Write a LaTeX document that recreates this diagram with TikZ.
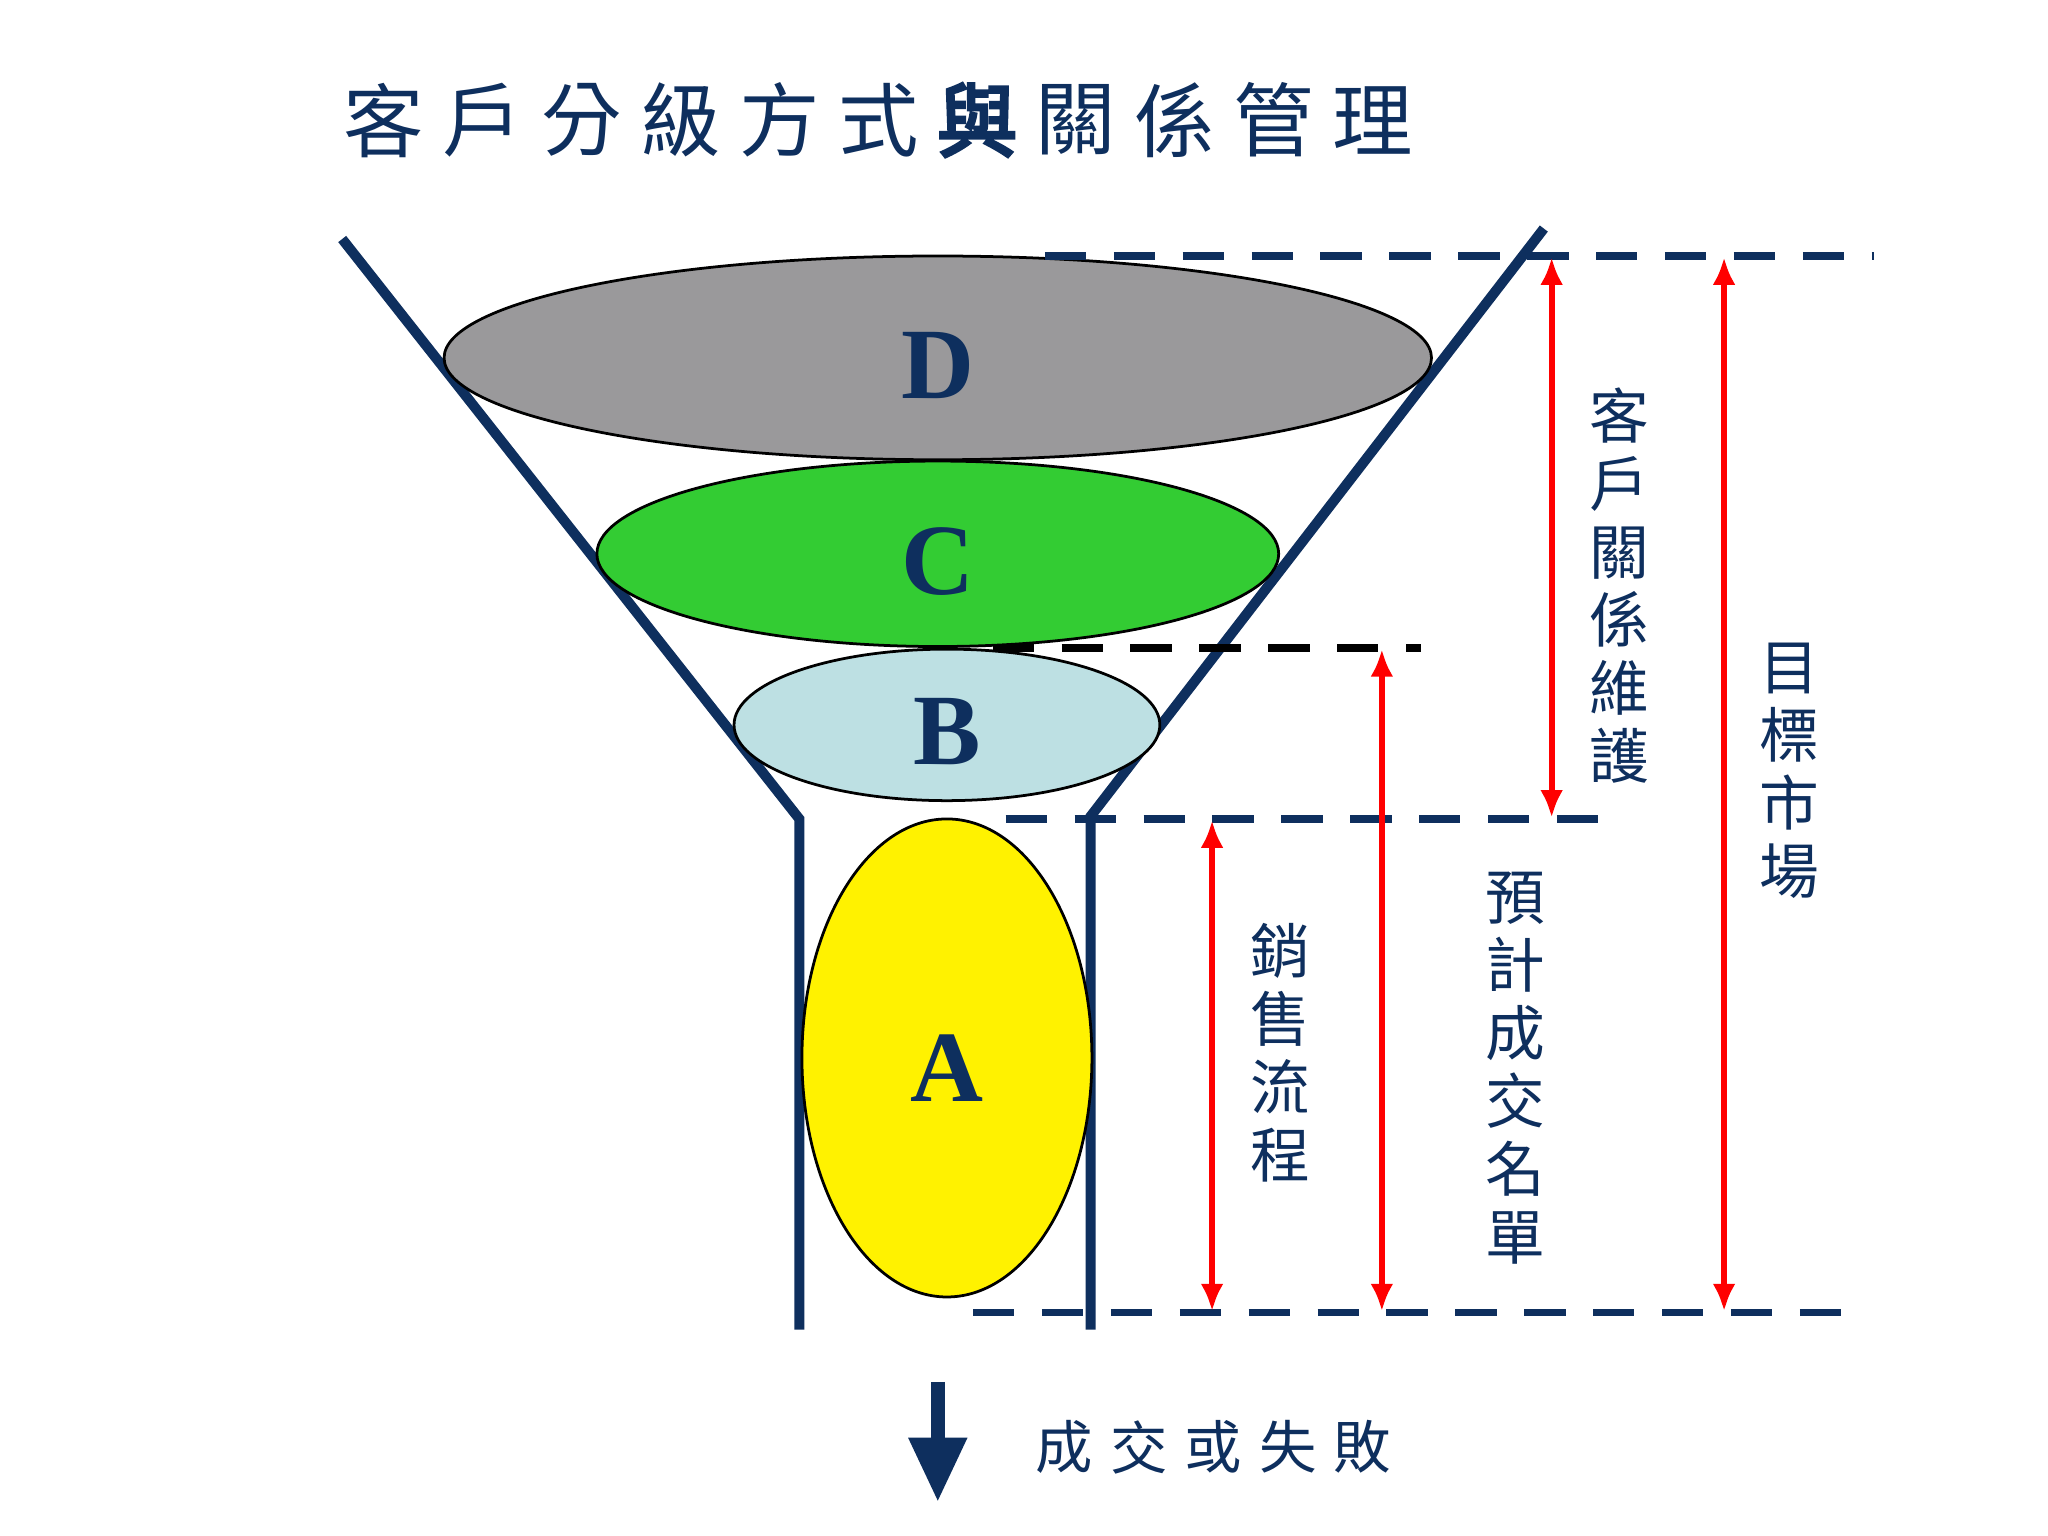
\documentclass[tikz,border=0pt]{standalone}
\usepackage{fontspec}
\newfontfamily\cjk{Noto Sans CJK TC}
\newfontfamily\cjkb{Noto Sans CJK TC}[FakeBold=4]
\newfontfamily\lserif{Liberation Serif}
\usetikzlibrary{arrows.meta}
\definecolor{navy}{HTML}{0E2F5E}
\definecolor{dgray}{HTML}{9A999B}
\definecolor{cgreen}{HTML}{33CC33}
\definecolor{lblue}{HTML}{BDE0E3}
\tikzset{
 funnel/.style={navy,line width=2.2pt},
 dline/.style={navy,line width=1.6pt,dash pattern=on 9pt off 6pt},
 rarrow/.style={red,line width=1.3pt,{Latex[length=6pt,width=5pt]}-{Latex[length=6pt,width=5pt]}},
 lvl/.style={draw=black,line width=0.6pt},
 letter/.style={font=\lserif\bfseries\fontsize{22}{22}\selectfont,text=navy},
 vtext/.style={align=center,text=navy,font=\cjk\fontsize{13}{14.8}\selectfont,inner sep=0pt},
}
\begin{document}
\begin{tikzpicture}[x=0.01cm,y=-0.01cm]
\useasboundingbox[fill=white] (0,0) rectangle (1568,1176);
% title
\foreach \c [count=\i] in {客,戶,分,級,方,式,與,關,係,管,理}{
  \ifnum\i=7
   \node[text=navy,font=\cjkb\fontsize{17.5}{17.5}\selectfont] (t\i) at ({294+(\i-1)*75.7},92) {\c};
  \else
   \node[text=navy,font=\cjk\fontsize{17.5}{17.5}\selectfont] (t\i) at ({294+(\i-1)*75.7},92) {\c};
  \fi}
% funnel
\coordinate (l1) at (262,183); \coordinate (l2) at (612,627); \coordinate (l3) at (612,1018);
\coordinate (r1) at (1182,175); \coordinate (r2) at (835,625); \coordinate (r3) at (835,1018);
\draw[funnel] (l1) -- (l2) -- (l3);
\draw[funnel] (r1) -- (r2) -- (r3);
% levels
\draw[lvl,fill=dgray] (718,274) ellipse [x radius=378,y radius=78];
\draw[lvl,fill=cgreen] (718,424) ellipse [x radius=261,y radius=71];
\draw[lvl,fill=lblue] (725,555) ellipse [x radius=163,y radius=58];
\draw[lvl,fill=yellow] (725,810) ellipse [x radius=111,y radius=183];
\node[letter] (D) at (718,280) {D};
\node[letter] (C) at (718,430) {C};
\node[letter] (B) at (725,560) {B};
\node[letter] (A) at (725,818) {A};
% dashed lines
\coordinate (d1a) at (800,196); \coordinate (d1b) at (1435,196);
\coordinate (d2a) at (760,496); \coordinate (d2b) at (1088,496);
\coordinate (d3a) at (770,627); \coordinate (d3b) at (1238,627);
\coordinate (d4a) at (745,1005); \coordinate (d4b) at (1415,1005);
\draw[dline] (d1a) -- (d1b);
\draw[dline,black] (d2a) -- (d2b);
\draw[dline] (d3a) -- (d3b);
\draw[dline] (d4a) -- (d4b);
% arrows
\coordinate (a1) at (1188,197); \coordinate (a1b) at (1188,626);
\coordinate (a2) at (1320,197); \coordinate (a2b) at (1320,1004);
\coordinate (a3) at (1058,497); \coordinate (a3b) at (1058,1004);
\coordinate (a4) at (928,628); \coordinate (a4b) at (928,1004);
\draw[rarrow] (a1) -- (a1b);
\draw[rarrow] (a2) -- (a2b);
\draw[rarrow] (a3) -- (a3b);
\draw[rarrow] (a4) -- (a4b);
% vertical labels
\node[vtext] (v1) at (1240,448) {客\\戶\\關\\係\\維\\護};
\node[vtext] (v2) at (1370,590) {目\\標\\市\\場};
\node[vtext] (v3) at (1160,818) {預\\計\\成\\交\\名\\單};
\node[vtext] (v4) at (980,806) {銷\\售\\流\\程};
% bottom
\coordinate (b1) at (718,1058); \coordinate (b2) at (718,1150);
\draw[navy,line width=3pt,-{Triangle[length=14pt,width=12pt]}] (b1) -- (b2);
\foreach \c [count=\i] in {成,交,或,失,敗}{
  \node[text=navy,font=\cjk\fontsize{12.5}{12.5}\selectfont] (e\i) at ({815+(\i-1)*57},1108) {\c};}
\end{tikzpicture}
\end{document}
